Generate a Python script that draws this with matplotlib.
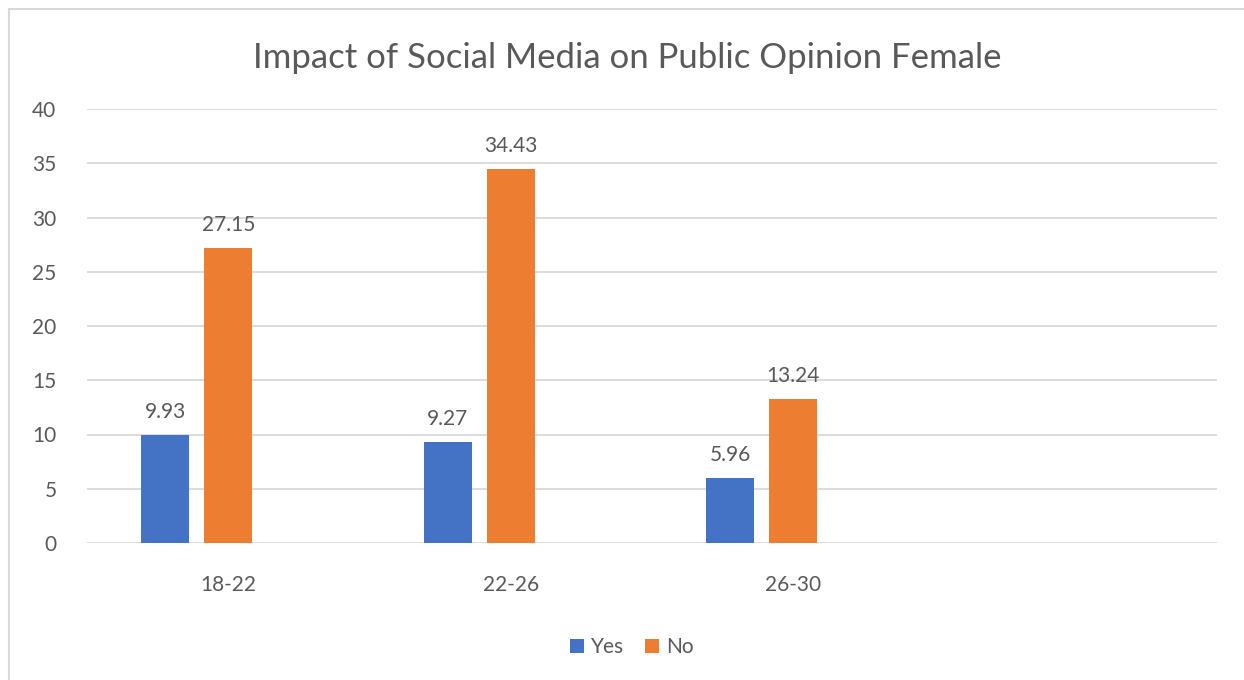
import numpy as np
import matplotlib.pyplot as plt
from matplotlib.patches import Rectangle

plt.rcParams['font.family'] = ['Lato', 'DejaVu Sans']

categories = ['18-22', '22-26', '26-30', '']
yes_values = [9.93, 9.27, 5.96]
no_values = [27.15, 34.43, 13.24]

blue = '#4472C4'
orange = '#ED7D31'
text_color = '#595959'
grid_color = '#D9D9D9'

fig = plt.figure(figsize=(12.44, 6.80), dpi=100)
ax = fig.add_axes([87 / 1244, 137 / 680, 1130 / 1244, 434 / 680])

# outer chart border (Excel-like)
fig.patches.append(Rectangle((9 / 1244, -0.1), 1.2, 1 - 9 / 680 + 0.1,
                             transform=fig.transFigure, fill=False,
                             edgecolor=grid_color, linewidth=1.5))

idx = np.arange(len(yes_values))
bar_w = 0.17
yes_bars = ax.bar(idx - 0.223, yes_values, bar_w, color=blue, label='Yes', zorder=3)
no_bars = ax.bar(idx, no_values, bar_w, color=orange, label='No', zorder=3)

for bars in (yes_bars, no_bars):
    for b in bars:
        ax.text(b.get_x() + b.get_width() / 2, b.get_height() + 1.6,
                f'{b.get_height():.2f}', ha='center', va='baseline',
                fontsize=15, color=text_color)

ax.set_xlim(-0.5, 3.5)
ax.set_ylim(0, 40)
ax.set_yticks(range(0, 41, 5))
ax.set_xticks(range(len(categories)))
ax.set_xticklabels(categories)
ax.grid(axis='y', color=grid_color, linewidth=1.3, zorder=0)
for s in ax.spines.values():
    s.set_visible(False)
ax.tick_params(axis='both', length=0, labelsize=15, labelcolor=text_color)
ax.tick_params(axis='x', pad=23)
ax.tick_params(axis='y', pad=22)

fig.text(627 / 1244, 1 - 58 / 680, 'Impact of Social Media on Public Opinion Female',
         ha='center', va='center', fontsize=25, color=text_color)

fig.legend(handles=[yes_bars, no_bars], labels=['Yes', 'No'], loc='center',
           bbox_to_anchor=(632 / 1244, 1 - 647 / 680), ncol=2, frameon=False,
           fontsize=15, labelcolor=text_color, handlelength=0.65, handleheight=0.65,
           handletextpad=0.35, columnspacing=1.0)

fig.savefig('out.png', dpi=100)
